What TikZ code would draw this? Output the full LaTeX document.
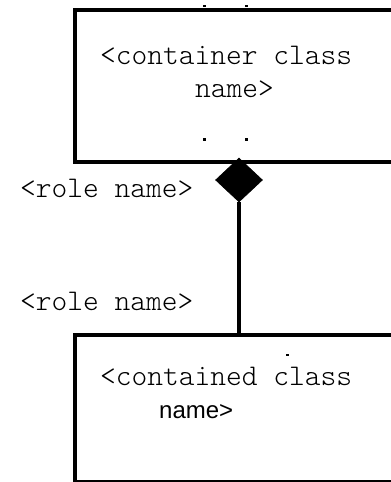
\documentclass[tikz,border=0pt]{standalone}
\usepackage{fontspec}
\setmainfont{Liberation Sans}
\setmonofont{Latin Modern Mono Light}
\usetikzlibrary{shapes.geometric}
\begin{document}
\begin{tikzpicture}[x=1bp,y=-1bp,
  classbox/.style={draw, line width=4bp, inner sep=0pt, outer sep=0pt,
    minimum width=335bp},
  mono/.style={font=\ttfamily\fontsize{30bp}{34bp}\selectfont, inner sep=0pt, anchor=base west},
  sans/.style={font=\fontsize{24bp}{30bp}\selectfont, inner sep=0pt, anchor=base west},
  tick/.style={fill=black}]
\useasboundingbox (0,0) rectangle (390,482);
\fill[white] (0,0) rectangle (390,482);

% container class
\node[classbox, minimum height=152bp] (container) at (242.5,86) {};
\node[mono] (containerA) at (100,65) {<container class};
\node[mono] (containerB) at (195,98) {name>};

% contained class
\node[classbox, minimum height=147bp] (contained) at (242.5,408.5) {};
\node[mono] (containedA) at (100,385) {<contained class};
\node[sans] (containedB) at (159,418) {name>};

% composition diamond and link
\node[diamond, fill=black, draw=black, line width=0.6bp, inner sep=0pt,
  minimum width=47bp, minimum height=44bp] (comp) at (239,180) {};
\draw[line width=4bp] (comp.south) -- (comp.south |- contained.north);

% role names
\node[mono] (roleA) at (20,197) {<role name>};
\node[mono] (roleB) at (20,310) {<role name>};

% stray marks
\fill[tick] (203,5) rectangle (206,7);
\fill[tick] (245,5) rectangle (248,7);
\fill[tick] (203,138) rectangle (206,141);
\fill[tick] (245,138) rectangle (248,141);
\fill[tick] (286,354) rectangle (289,356);
\end{tikzpicture}
\end{document}
